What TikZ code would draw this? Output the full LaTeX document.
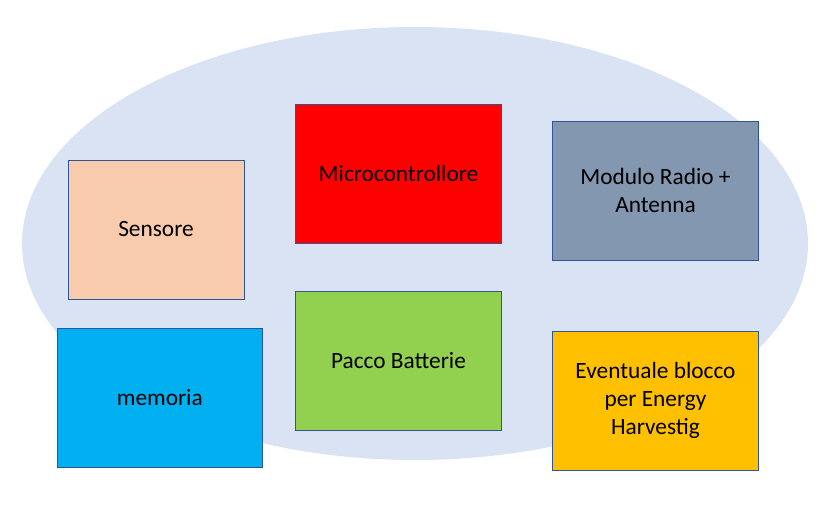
\documentclass[tikz,border=0pt]{standalone}
\usepackage{fontspec}
\setmainfont{Carlito}
\usetikzlibrary{positioning}

\definecolor{cloudblue}{HTML}{DAE3F3}
\definecolor{edgeblue}{HTML}{2F5597}
\definecolor{peach}{HTML}{F8CBAD}
\definecolor{slate}{HTML}{8497B0}
\definecolor{skyblue}{HTML}{00B0F0}
\definecolor{leafgreen}{HTML}{92D050}
\definecolor{amber}{HTML}{FFC000}

\begin{document}
\begin{tikzpicture}[x=0.75pt,y=-0.75pt,
	block/.style={draw=edgeblue,line width=0.75pt,minimum width=154.5pt,minimum height=104.25pt,
		align=center,font=\fontsize{17.5}{21}\selectfont,inner sep=0pt}]
	\useasboundingbox (0,0) rectangle (832,519);
	\fill[cloudblue] (415,243.5) ellipse [x radius=393,y radius=216.5];

	\node[block,fill=peach,minimum width=132pt] (sens) at (156,229.5) {Sensore};
	\node[block,fill=red] (mcu) at (398.5,173.7) {Microcontrollore};
	\node[block,fill=slate] (radio) at (655.5,190.8) {Modulo Radio +\\Antenna};
	\node[block,fill=skyblue,minimum width=153.75pt] (mem) at (159.8,397.8) {memoria};
	\node[block,fill=leafgreen] (batt) at (398.5,360.8) {Pacco Batterie};
	\node[block,fill=amber] (harv) at (655.5,400.5) {Eventuale blocco\\per Energy\\Harvestig};
\end{tikzpicture}
\end{document}
